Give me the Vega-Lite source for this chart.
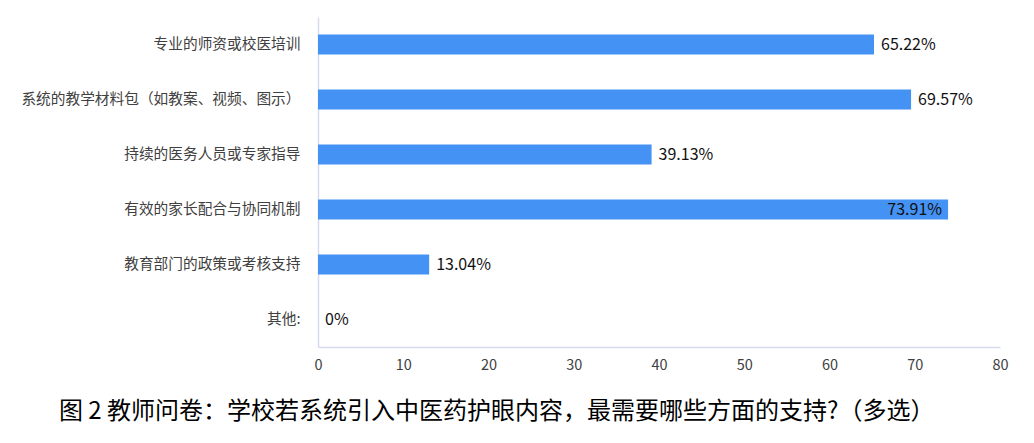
{
  "$schema": "https://vega.github.io/schema/vega-lite/v6.json",
  "width": 682,
  "height": 330,
  "padding": {"left": 20, "top": 17, "right": 26, "bottom": 8},
  "title": {
    "text": "图 2 教师问卷：学校若系统引入中医药护眼内容，最需要哪些方面的支持?（多选）",
    "orient": "bottom",
    "anchor": "start",
    "frame": "bounds",
    "dx": 38,
    "offset": 28,
    "font": "Noto Sans CJK SC",
    "fontSize": 24,
    "fontWeight": "normal",
    "color": "#000000"
  },
  "data": {
    "values": [
      {"item": "专业的师资或校医培训", "value": 65.22, "label": "65.22%"},
      {"item": "系统的教学材料包（如教案、视频、图示）", "value": 69.57, "label": "69.57%"},
      {"item": "持续的医务人员或专家指导", "value": 39.13, "label": "39.13%"},
      {"item": "有效的家长配合与协同机制", "value": 73.91, "label": "73.91%"},
      {"item": "教育部门的政策或考核支持", "value": 13.04, "label": "13.04%"},
      {"item": "其他:", "value": 0, "label": "0%"}
    ]
  },
  "encoding": {
    "y": {
      "field": "item",
      "type": "nominal",
      "sort": null,
      "title": null,
      "scale": {"paddingInner": 0, "paddingOuter": 0},
      "axis": {
        "ticks": false,
        "labelPadding": 18,
        "labelFont": "Noto Sans CJK SC",
        "labelFontSize": 14.7,
        "labelColor": "#404040",
        "labelLimit": 400,
        "domainColor": "#d6dcee",
        "domainWidth": 1.5
      }
    },
    "x": {
      "field": "value",
      "type": "quantitative",
      "title": null,
      "scale": {"domain": [0, 80], "nice": false},
      "axis": {
        "values": [0, 10, 20, 30, 40, 50, 60, 70, 80],
        "grid": false,
        "ticks": false,
        "labelFlush": false,
        "labelPadding": 11,
        "labelFont": "Noto Sans CJK SC",
        "labelFontSize": 14.5,
        "labelColor": "#404040",
        "domainColor": "#d6dcee",
        "domainWidth": 1.5
      }
    }
  },
  "layer": [
    {
      "mark": {"type": "bar", "color": "#4492f4", "height": {"band": 0.364}}
    },
    {
      "transform": [{"filter": "datum.value < 72"}],
      "mark": {"type": "text", "align": "left", "baseline": "middle", "dx": 7, "font": "Noto Sans CJK SC", "fontSize": 16, "color": "#111111"},
      "encoding": {"text": {"field": "label"}}
    },
    {
      "transform": [{"filter": "datum.value >= 72"}],
      "mark": {"type": "text", "align": "right", "baseline": "middle", "dx": -6, "font": "Noto Sans CJK SC", "fontSize": 16, "color": "#111111"},
      "encoding": {"text": {"field": "label"}}
    }
  ],
  "config": {"view": {"stroke": null}}
}
